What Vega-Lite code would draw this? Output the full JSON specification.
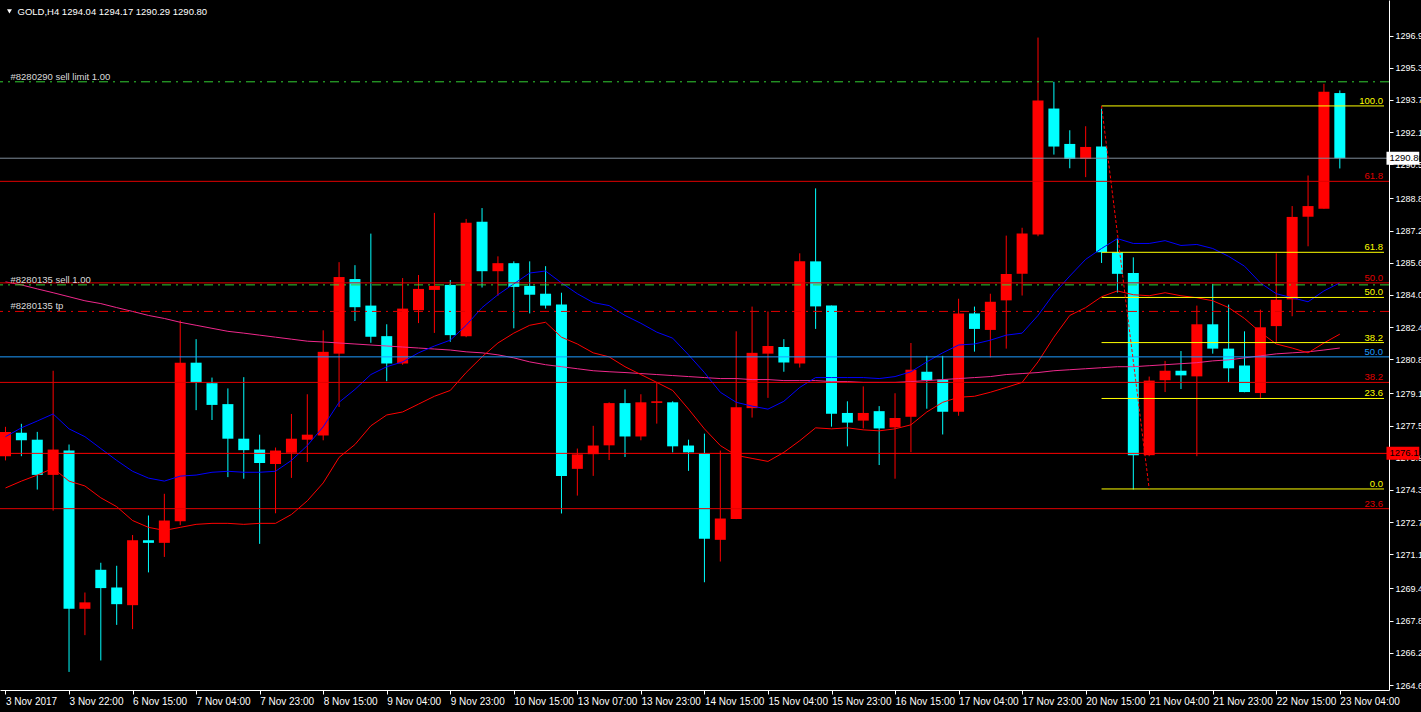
{
  "$schema": "https://vega.github.io/schema/vega-lite/v6.json",
  "width": 1389,
  "height": 690,
  "autosize": {"type": "none"},
  "padding": {"left": 0, "top": 0, "right": 32, "bottom": 22},
  "background": "#000000",
  "config": {
    "view": {"stroke": null},
    "axis": {"title": null, "grid": false, "domainColor": "#FFFFFF", "tickColor": "#FFFFFF", "labelColor": "#FFFFFF", "labelFont": "Liberation Sans", "labelFontSize": 10, "tickSize": 4, "domainWidth": 1, "tickWidth": 1, "labelOverlap": false, "labelSeparation": 0},
    "axisY": {"labelOverlap": false, "labelFontSize": 9}
  },
  "datasets": {
    "bars": [
      {"k":-1,"o":1275.98,"h":1277.44,"l":1275.77,"c":1277.18},
      {"k":0,"o":1277.15,"h":1277.59,"l":1275.98,"c":1276.77},
      {"k":1,"o":1276.80,"h":1277.19,"l":1274.32,"c":1275.05},
      {"k":2,"o":1275.05,"h":1280.23,"l":1273.27,"c":1276.31},
      {"k":3,"o":1276.26,"h":1276.56,"l":1265.25,"c":1268.39},
      {"k":4,"o":1268.39,"h":1269.20,"l":1267.08,"c":1268.71},
      {"k":5,"o":1270.33,"h":1270.68,"l":1265.82,"c":1269.42},
      {"k":6,"o":1269.45,"h":1270.53,"l":1267.59,"c":1268.62},
      {"k":7,"o":1268.57,"h":1272.06,"l":1267.38,"c":1271.80},
      {"k":8,"o":1271.80,"h":1273.03,"l":1270.20,"c":1271.67},
      {"k":9,"o":1271.67,"h":1274.11,"l":1270.97,"c":1272.78},
      {"k":10,"o":1272.75,"h":1282.73,"l":1272.55,"c":1280.63},
      {"k":11,"o":1280.63,"h":1281.80,"l":1278.27,"c":1279.65},
      {"k":12,"o":1279.61,"h":1279.89,"l":1277.78,"c":1278.53},
      {"k":13,"o":1278.57,"h":1279.35,"l":1274.94,"c":1276.85},
      {"k":14,"o":1276.85,"h":1279.91,"l":1274.86,"c":1276.28},
      {"k":15,"o":1276.31,"h":1277.05,"l":1271.62,"c":1275.64},
      {"k":16,"o":1275.59,"h":1276.41,"l":1273.14,"c":1276.26},
      {"k":17,"o":1276.15,"h":1278.08,"l":1274.90,"c":1276.85},
      {"k":18,"o":1276.80,"h":1279.06,"l":1275.69,"c":1277.05},
      {"k":19,"o":1277.01,"h":1282.24,"l":1276.77,"c":1281.17},
      {"k":20,"o":1281.08,"h":1285.63,"l":1278.43,"c":1284.89},
      {"k":21,"o":1284.79,"h":1285.48,"l":1282.70,"c":1283.39},
      {"k":22,"o":1283.47,"h":1287.05,"l":1281.62,"c":1281.92},
      {"k":23,"o":1281.95,"h":1282.54,"l":1279.71,"c":1280.59},
      {"k":24,"o":1280.59,"h":1284.84,"l":1280.53,"c":1283.32},
      {"k":25,"o":1283.24,"h":1284.99,"l":1282.60,"c":1284.30},
      {"k":26,"o":1284.25,"h":1288.08,"l":1282.11,"c":1284.45},
      {"k":27,"o":1284.50,"h":1284.74,"l":1281.67,"c":1282.00},
      {"k":28,"o":1281.95,"h":1287.78,"l":1281.90,"c":1287.59},
      {"k":29,"o":1287.64,"h":1288.32,"l":1284.37,"c":1285.18},
      {"k":30,"o":1285.18,"h":1285.92,"l":1283.96,"c":1285.58},
      {"k":31,"o":1285.58,"h":1285.67,"l":1282.34,"c":1284.40},
      {"k":32,"o":1284.45,"h":1285.67,"l":1283.08,"c":1284.01},
      {"k":33,"o":1284.06,"h":1285.43,"l":1283.32,"c":1283.47},
      {"k":34,"o":1283.52,"h":1284.11,"l":1273.13,"c":1275.00},
      {"k":35,"o":1275.35,"h":1276.36,"l":1274.02,"c":1276.07},
      {"k":36,"o":1276.08,"h":1277.49,"l":1275.00,"c":1276.51},
      {"k":37,"o":1276.52,"h":1278.66,"l":1275.79,"c":1278.62},
      {"k":38,"o":1278.62,"h":1279.30,"l":1275.94,"c":1276.96},
      {"k":39,"o":1276.96,"h":1279.06,"l":1276.77,"c":1278.66},
      {"k":40,"o":1278.63,"h":1279.65,"l":1277.60,"c":1278.71},
      {"k":41,"o":1278.66,"h":1278.71,"l":1276.17,"c":1276.47},
      {"k":42,"o":1276.51,"h":1276.80,"l":1275.25,"c":1276.17},
      {"k":43,"o":1276.12,"h":1277.10,"l":1269.71,"c":1271.87},
      {"k":44,"o":1271.82,"h":1276.26,"l":1270.74,"c":1272.88},
      {"k":45,"o":1272.85,"h":1282.19,"l":1272.85,"c":1278.42},
      {"k":46,"o":1278.37,"h":1283.42,"l":1277.90,"c":1281.12},
      {"k":47,"o":1281.08,"h":1283.18,"l":1278.88,"c":1281.46},
      {"k":48,"o":1281.41,"h":1281.80,"l":1280.18,"c":1280.64},
      {"k":49,"o":1280.59,"h":1286.07,"l":1280.39,"c":1285.67},
      {"k":50,"o":1285.67,"h":1289.30,"l":1282.31,"c":1283.43},
      {"k":51,"o":1283.47,"h":1283.47,"l":1277.45,"c":1278.09},
      {"k":52,"o":1278.13,"h":1278.71,"l":1276.47,"c":1277.65},
      {"k":53,"o":1277.75,"h":1279.45,"l":1277.36,"c":1278.13},
      {"k":54,"o":1278.22,"h":1278.47,"l":1275.54,"c":1277.36},
      {"k":55,"o":1277.41,"h":1279.11,"l":1274.86,"c":1277.88},
      {"k":56,"o":1277.94,"h":1281.61,"l":1276.18,"c":1280.28},
      {"k":57,"o":1280.18,"h":1280.97,"l":1278.34,"c":1279.76},
      {"k":58,"o":1279.79,"h":1280.97,"l":1277.06,"c":1278.19},
      {"k":59,"o":1278.19,"h":1283.81,"l":1277.99,"c":1283.08},
      {"k":60,"o":1283.08,"h":1283.42,"l":1281.18,"c":1282.31},
      {"k":61,"o":1282.26,"h":1284.06,"l":1280.89,"c":1283.66},
      {"k":62,"o":1283.73,"h":1286.95,"l":1281.33,"c":1285.04},
      {"k":63,"o":1285.05,"h":1287.34,"l":1283.97,"c":1287.05},
      {"k":64,"o":1287.01,"h":1296.80,"l":1286.92,"c":1293.67},
      {"k":65,"o":1293.27,"h":1294.60,"l":1290.98,"c":1291.38},
      {"k":66,"o":1291.51,"h":1292.19,"l":1290.30,"c":1290.76},
      {"k":67,"o":1290.76,"h":1292.39,"l":1289.86,"c":1291.36},
      {"k":68,"o":1291.38,"h":1293.27,"l":1285.59,"c":1286.12},
      {"k":69,"o":1286.12,"h":1286.80,"l":1284.12,"c":1285.05},
      {"k":70,"o":1285.09,"h":1285.87,"l":1274.32,"c":1276.03},
      {"k":71,"o":1276.03,"h":1279.94,"l":1275.98,"c":1279.74},
      {"k":72,"o":1279.76,"h":1280.72,"l":1279.17,"c":1280.23},
      {"k":73,"o":1280.23,"h":1281.21,"l":1279.32,"c":1280.00},
      {"k":74,"o":1279.95,"h":1283.47,"l":1275.98,"c":1282.54},
      {"k":75,"o":1282.54,"h":1284.55,"l":1281.08,"c":1281.33},
      {"k":76,"o":1281.33,"h":1283.52,"l":1279.66,"c":1280.35},
      {"k":77,"o":1280.49,"h":1282.19,"l":1279.16,"c":1279.17},
      {"k":78,"o":1279.12,"h":1283.27,"l":1278.88,"c":1282.39},
      {"k":79,"o":1282.45,"h":1286.07,"l":1281.67,"c":1283.76},
      {"k":80,"o":1283.78,"h":1288.42,"l":1282.94,"c":1287.88},
      {"k":81,"o":1287.89,"h":1289.94,"l":1286.42,"c":1288.42},
      {"k":82,"o":1288.29,"h":1294.50,"l":1288.29,"c":1294.11},
      {"k":83,"o":1294.04,"h":1294.17,"l":1290.29,"c":1290.80}
    ],
    "ma": [
      {"k":-1,"b":1276.95,"r":1274.40,"m":1284.65},
      {"k":0,"b":1277.39,"r":1274.74,"m":1284.50},
      {"k":1,"b":1277.73,"r":1275.04,"m":1284.30},
      {"k":2,"b":1278.08,"r":1275.38,"m":1284.11},
      {"k":3,"b":1277.34,"r":1274.74,"m":1283.91},
      {"k":4,"b":1276.95,"r":1274.50,"m":1283.71},
      {"k":5,"b":1276.36,"r":1273.91,"m":1283.57},
      {"k":6,"b":1275.77,"r":1273.47,"m":1283.37},
      {"k":7,"b":1275.23,"r":1272.78,"m":1283.18},
      {"k":8,"b":1274.89,"r":1272.44,"m":1282.98},
      {"k":9,"b":1274.74,"r":1272.29,"m":1282.83},
      {"k":10,"b":1274.99,"r":1272.44,"m":1282.64},
      {"k":11,"b":1275.04,"r":1272.59,"m":1282.49},
      {"k":12,"b":1275.18,"r":1272.64,"m":1282.34},
      {"k":13,"b":1275.23,"r":1272.64,"m":1282.19},
      {"k":14,"b":1275.18,"r":1272.59,"m":1282.10},
      {"k":15,"b":1275.18,"r":1272.64,"m":1282.00},
      {"k":16,"b":1275.23,"r":1272.64,"m":1281.90},
      {"k":17,"b":1275.77,"r":1273.08,"m":1281.80},
      {"k":18,"b":1276.51,"r":1273.76,"m":1281.70},
      {"k":19,"b":1277.44,"r":1274.65,"m":1281.66},
      {"k":20,"b":1278.66,"r":1275.92,"m":1281.61},
      {"k":21,"b":1279.30,"r":1276.56,"m":1281.56},
      {"k":22,"b":1280.04,"r":1277.49,"m":1281.51},
      {"k":23,"b":1280.43,"r":1278.03,"m":1281.46},
      {"k":24,"b":1280.67,"r":1278.18,"m":1281.41},
      {"k":25,"b":1281.12,"r":1278.57,"m":1281.36},
      {"k":26,"b":1281.46,"r":1278.96,"m":1281.31},
      {"k":27,"b":1281.75,"r":1279.25,"m":1281.26},
      {"k":28,"b":1282.49,"r":1280.14,"m":1281.17},
      {"k":29,"b":1283.37,"r":1280.92,"m":1281.12},
      {"k":30,"b":1284.01,"r":1281.61,"m":1281.02},
      {"k":31,"b":1284.55,"r":1282.10,"m":1280.87},
      {"k":32,"b":1285.09,"r":1282.49,"m":1280.67},
      {"k":33,"b":1285.19,"r":1282.64,"m":1280.53},
      {"k":34,"b":1284.60,"r":1281.90,"m":1280.43},
      {"k":35,"b":1284.06,"r":1281.56,"m":1280.33},
      {"k":36,"b":1283.62,"r":1281.12,"m":1280.23},
      {"k":37,"b":1283.47,"r":1280.92,"m":1280.18},
      {"k":38,"b":1282.98,"r":1280.43,"m":1280.14},
      {"k":39,"b":1282.59,"r":1280.04,"m":1280.09},
      {"k":40,"b":1282.15,"r":1279.65,"m":1280.04},
      {"k":41,"b":1281.85,"r":1279.25,"m":1279.99},
      {"k":42,"b":1281.02,"r":1278.32,"m":1279.94},
      {"k":43,"b":1280.14,"r":1277.34,"m":1279.89},
      {"k":44,"b":1279.16,"r":1276.51,"m":1279.84},
      {"k":45,"b":1278.66,"r":1276.02,"m":1279.84},
      {"k":46,"b":1278.47,"r":1275.87,"m":1279.79},
      {"k":47,"b":1278.32,"r":1275.72,"m":1279.79},
      {"k":48,"b":1278.71,"r":1276.17,"m":1279.74},
      {"k":49,"b":1279.40,"r":1276.75,"m":1279.74},
      {"k":50,"b":1279.89,"r":1277.39,"m":1279.74},
      {"k":51,"b":1279.89,"r":1277.34,"m":1279.69},
      {"k":52,"b":1279.89,"r":1277.39,"m":1279.69},
      {"k":53,"b":1279.89,"r":1277.29,"m":1279.65},
      {"k":54,"b":1279.84,"r":1277.24,"m":1279.65},
      {"k":55,"b":1279.94,"r":1277.34,"m":1279.65},
      {"k":56,"b":1280.18,"r":1277.54,"m":1279.69},
      {"k":57,"b":1280.67,"r":1278.18,"m":1279.74},
      {"k":58,"b":1281.12,"r":1278.66,"m":1279.79},
      {"k":59,"b":1281.51,"r":1278.91,"m":1279.84},
      {"k":60,"b":1281.56,"r":1278.96,"m":1279.89},
      {"k":61,"b":1281.75,"r":1279.16,"m":1279.94},
      {"k":62,"b":1282.00,"r":1279.40,"m":1280.04},
      {"k":63,"b":1282.10,"r":1279.65,"m":1280.09},
      {"k":64,"b":1282.98,"r":1280.67,"m":1280.14},
      {"k":65,"b":1284.06,"r":1281.90,"m":1280.23},
      {"k":66,"b":1284.94,"r":1282.98,"m":1280.28},
      {"k":67,"b":1285.77,"r":1283.37,"m":1280.33},
      {"k":68,"b":1286.31,"r":1283.91,"m":1280.38},
      {"k":69,"b":1286.80,"r":1284.20,"m":1280.43},
      {"k":70,"b":1286.56,"r":1284.01,"m":1280.43},
      {"k":71,"b":1286.56,"r":1283.96,"m":1280.48},
      {"k":72,"b":1286.70,"r":1284.11,"m":1280.53},
      {"k":73,"b":1286.46,"r":1283.96,"m":1280.58},
      {"k":74,"b":1286.51,"r":1283.86,"m":1280.63},
      {"k":75,"b":1286.31,"r":1283.71,"m":1280.72},
      {"k":76,"b":1285.92,"r":1283.37,"m":1280.77},
      {"k":77,"b":1285.43,"r":1282.83,"m":1280.87},
      {"k":78,"b":1284.60,"r":1282.14,"m":1280.97},
      {"k":79,"b":1284.06,"r":1281.56,"m":1281.07},
      {"k":80,"b":1283.86,"r":1281.36,"m":1281.12},
      {"k":81,"b":1283.66,"r":1281.12,"m":1281.17},
      {"k":82,"b":1284.20,"r":1281.61,"m":1281.26},
      {"k":83,"b":1284.60,"r":1282.05,"m":1281.36}
    ],
    "levels": [
      {"price":1290.80,"kind":"bid","label":""},
      {"price":1289.65,"kind":"fibo2","label":"61.8"},
      {"price":1284.60,"kind":"fibo2","label":"50.0"},
      {"price":1279.65,"kind":"fibo2","label":"38.2"},
      {"price":1273.37,"kind":"fibo2","label":"23.6"},
      {"price":1276.12,"kind":"hline","label":""},
      {"price":1280.92,"kind":"fibo3","label":"50.0"}
    ],
    "orders": [
      {"price":1294.60,"kind":"sell limit","label":"#8280290 sell limit 1.00"},
      {"price":1284.50,"kind":"sell","label":"#8280135 sell 1.00"},
      {"price":1283.18,"kind":"tp","label":"#8280135 tp"}
    ],
    "fibo": [
      {"level":"100.0","price":1293.40},
      {"level":"61.8","price":1286.12},
      {"level":"50.0","price":1283.875},
      {"level":"38.2","price":1281.63},
      {"level":"23.6","price":1278.85},
      {"level":"0.0","price":1274.35}
    ],
    "fibtrend": [
      {"k":68,"p":1293.40},
      {"k":71,"p":1274.35}
    ],
    "tags": [
      {"price":1290.80,"label":"1290.80","kind":"bid"},
      {"price":1276.12,"label":"1276.12","kind":"hline"}
    ]
  },
  "layer": [
    {
      "data": {"name": "bars"},
      "mark": {"type": "rule", "strokeWidth": 1},
      "encoding": {
        "x": {"field": "k", "type": "quantitative", "scale": {"domain": [-1.03125, 85.78125], "nice": false, "zero": false},
          "axis": {"values": [-1,3,7,11,15,19,23,27,31,35,39,43,47,51,55,59,63,67,71,75,79,83], "tickCount": 40,
            "labelExpr": "['3 Nov 2017','3 Nov 22:00','6 Nov 15:00','7 Nov 04:00','7 Nov 23:00','8 Nov 15:00','9 Nov 04:00','9 Nov 23:00','10 Nov 15:00','13 Nov 07:00','13 Nov 23:00','14 Nov 15:00','15 Nov 04:00','15 Nov 23:00','16 Nov 15:00','17 Nov 04:00','17 Nov 23:00','20 Nov 15:00','21 Nov 04:00','21 Nov 23:00','22 Nov 15:00','23 Nov 04:00'][(datum.value+1)/4]",
            "labelAlign": "left", "labelDx": 0, "labelPadding": 2, "labelBaseline": "top", "labelFlush": false, "labelOverlap": false, "labelBound": false, "orient": "bottom"}},
        "y": {"field": "l", "type": "quantitative", "scale": {"domain": [1264.6, 1298.42], "nice": false, "zero": false},
          "axis": {"orient": "right", "tickCount": 40, "values": [1264.6,1266.2,1267.8,1269.4,1271.1,1272.7,1274.3,1275.9,1277.5,1279.1,1280.8,1282.4,1284.0,1285.6,1287.2,1288.8,1290.5,1292.1,1293.7,1295.3,1296.9],
            "format": ".1f", "labelPadding": 2, "labelBaseline": "middle", "labelOverlap": false, "labelBound": false, "labelFlush": false, "labelSeparation": 0}},
        "y2": {"field": "h"},
        "color": {"condition": {"test": "datum.c > datum.o", "value": "#FF0000"}, "value": "#00FFFF"}
      }
    },
    {
      "data": {"name": "bars"},
      "mark": {"type": "bar", "orient": "vertical"},
      "encoding": {
        "x": {"field": "k", "type": "quantitative", "scale": {"domain": [-1.03125, 85.78125], "nice": false, "zero": false}},
        "y": {"field": "o", "type": "quantitative", "scale": {"domain": [1264.6, 1298.42], "nice": false, "zero": false}},
        "y2": {"field": "c"},
        "size": {"value": 11},
        "color": {"condition": {"test": "datum.c > datum.o", "value": "#FF0000"}, "value": "#00FFFF"}
      }
    },
    {
      "data": {"name": "ma"},
      "mark": {"type": "line", "strokeWidth": 1, "color": "#F0288C"},
      "encoding": {
        "x": {"field": "k", "type": "quantitative", "scale": {"domain": [-1.03125, 85.78125], "nice": false, "zero": false}},
        "y": {"field": "m", "type": "quantitative", "scale": {"domain": [1264.6, 1298.42], "nice": false, "zero": false}}
      }
    },
    {
      "data": {"name": "ma"},
      "mark": {"type": "line", "strokeWidth": 1, "color": "#FF0000"},
      "encoding": {
        "x": {"field": "k", "type": "quantitative", "scale": {"domain": [-1.03125, 85.78125], "nice": false, "zero": false}},
        "y": {"field": "r", "type": "quantitative", "scale": {"domain": [1264.6, 1298.42], "nice": false, "zero": false}}
      }
    },
    {
      "data": {"name": "ma"},
      "mark": {"type": "line", "strokeWidth": 1, "color": "#0000FF"},
      "encoding": {
        "x": {"field": "k", "type": "quantitative", "scale": {"domain": [-1.03125, 85.78125], "nice": false, "zero": false}},
        "y": {"field": "b", "type": "quantitative", "scale": {"domain": [1264.6, 1298.42], "nice": false, "zero": false}}
      }
    },
    {
      "data": {"name": "levels"},
      "mark": {"type": "rule", "strokeWidth": 1},
      "encoding": {
        "y": {"field": "price", "type": "quantitative", "scale": {"domain": [1264.6, 1298.42], "nice": false, "zero": false}},
        "color": {"field": "kind", "type": "nominal", "legend": null,
          "scale": {"domain": ["bid", "fibo2", "hline", "fibo3"], "range": ["#7F8C99", "#E00000", "#FF0000", "#1E9BFF"]}}
      }
    },
    {
      "data": {"name": "orders"},
      "mark": {"type": "rule", "strokeWidth": 1, "strokeDash": [9, 5, 2, 5]},
      "encoding": {
        "y": {"field": "price", "type": "quantitative", "scale": {"domain": [1264.6, 1298.42], "nice": false, "zero": false}},
        "color": {"field": "kind", "type": "nominal", "legend": null,
          "scale": {"domain": ["sell limit", "sell", "tp"], "range": ["#32CD32", "#32CD32", "#E00000"]}}
      }
    },
    {
      "data": {"name": "fibo"},
      "mark": {"type": "rule", "strokeWidth": 1, "color": "#FFFF00"},
      "encoding": {
        "x": {"datum": 68, "type": "quantitative", "scale": {"domain": [-1.03125, 85.78125], "nice": false, "zero": false}},
        "x2": {"datum": 85.78125},
        "y": {"field": "price", "type": "quantitative", "scale": {"domain": [1264.6, 1298.42], "nice": false, "zero": false}}
      }
    },
    {
      "data": {"name": "fibtrend"},
      "mark": {"type": "line", "strokeWidth": 1, "color": "#FF0000", "strokeDash": [3, 2]},
      "encoding": {
        "x": {"field": "k", "type": "quantitative", "scale": {"domain": [-1.03125, 85.78125], "nice": false, "zero": false}},
        "y": {"field": "p", "type": "quantitative", "scale": {"domain": [1264.6, 1298.42], "nice": false, "zero": false}}
      }
    },
    {
      "data": {"name": "fibo"},
      "mark": {"type": "text", "align": "right", "baseline": "alphabetic", "dx": -1, "dy": -2, "font": "Liberation Sans", "fontSize": 9.5, "color": "#FFFF00"},
      "encoding": {
        "x": {"datum": 85.78125, "type": "quantitative", "scale": {"domain": [-1.03125, 85.78125], "nice": false, "zero": false}},
        "y": {"field": "price", "type": "quantitative", "scale": {"domain": [1264.6, 1298.42], "nice": false, "zero": false}},
        "text": {"field": "level"}
      }
    },
    {
      "data": {"name": "levels"},
      "mark": {"type": "text", "align": "right", "baseline": "alphabetic", "dx": -1, "dy": -2, "font": "Liberation Sans", "fontSize": 9.5},
      "encoding": {
        "x": {"datum": 85.78125, "type": "quantitative", "scale": {"domain": [-1.03125, 85.78125], "nice": false, "zero": false}},
        "y": {"field": "price", "type": "quantitative", "scale": {"domain": [1264.6, 1298.42], "nice": false, "zero": false}},
        "text": {"field": "label"},
        "color": {"field": "kind", "type": "nominal", "legend": null,
          "scale": {"domain": ["bid", "fibo2", "hline", "fibo3"], "range": ["#7F8C99", "#E00000", "#FF0000", "#1E9BFF"]}}
      }
    },
    {
      "data": {"name": "orders"},
      "mark": {"type": "text", "align": "left", "baseline": "alphabetic", "dx": 5, "dy": -2, "font": "Liberation Sans", "fontSize": 9.5, "color": "#DADADA"},
      "encoding": {
        "x": {"datum": -1, "type": "quantitative", "scale": {"domain": [-1.03125, 85.78125], "nice": false, "zero": false}},
        "y": {"field": "price", "type": "quantitative", "scale": {"domain": [1264.6, 1298.42], "nice": false, "zero": false}},
        "text": {"field": "label"}
      }
    },
    {
      "data": {"values": [{"t": "GOLD,H4  1294.04 1294.17 1290.29 1290.80"}]},
      "mark": {"type": "text", "align": "left", "baseline": "middle", "dx": 12, "font": "Liberation Sans", "fontSize": 9.5, "color": "#FFFFFF"},
      "encoding": {
        "x": {"datum": -1, "type": "quantitative", "scale": {"domain": [-1.03125, 85.78125], "nice": false, "zero": false}},
        "y": {"datum": 1298.08, "type": "quantitative", "scale": {"domain": [1264.6, 1298.42], "nice": false, "zero": false}},
        "text": {"field": "t"}
      }
    },
    {
      "data": {"values": [{"t": "menu"}]},
      "mark": {"type": "point", "shape": "triangle-down", "filled": true, "size": 24, "color": "#FFFFFF", "opacity": 1},
      "encoding": {
        "x": {"datum": -0.75, "type": "quantitative", "scale": {"domain": [-1.03125, 85.78125], "nice": false, "zero": false}},
        "y": {"datum": 1298.1, "type": "quantitative", "scale": {"domain": [1264.6, 1298.42], "nice": false, "zero": false}}
      }
    },
    {
      "data": {"name": "tags"},
      "mark": {"type": "bar", "orient": "horizontal"},
      "encoding": {
        "x": {"datum": 85.9375, "type": "quantitative", "scale": {"domain": [-1.03125, 85.78125], "nice": false, "zero": false}},
        "x2": {"datum": 88},
        "y": {"field": "price", "type": "quantitative", "scale": {"domain": [1264.6, 1298.42], "nice": false, "zero": false}},
        "size": {"value": 13},
        "color": {"field": "kind", "type": "nominal", "legend": null, "scale": {"domain": ["bid", "hline"], "range": ["#FFFFFF", "#FF0000"]}}
      }
    },
    {
      "data": {"name": "tags"},
      "mark": {"type": "text", "align": "left", "baseline": "middle", "dx": 3, "font": "Liberation Sans", "fontSize": 9.5, "color": "#000000"},
      "encoding": {
        "x": {"datum": 85.9375, "type": "quantitative", "scale": {"domain": [-1.03125, 85.78125], "nice": false, "zero": false}},
        "y": {"field": "price", "type": "quantitative", "scale": {"domain": [1264.6, 1298.42], "nice": false, "zero": false}},
        "text": {"field": "label"}
      }
    }
  ],
  "resolve": {"scale": {"color": "independent"}}
}
